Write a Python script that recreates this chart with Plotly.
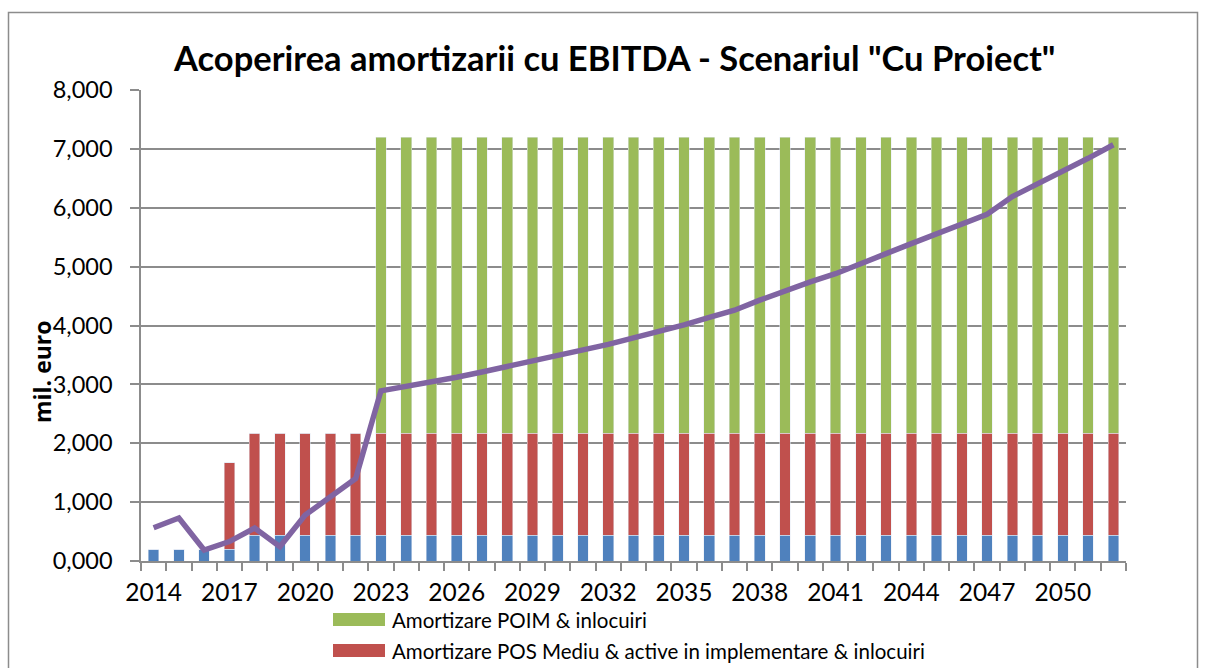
import plotly.graph_objects as go

# Years on the category axis
years = [2014, 2015, 2016, 2017, 2018, 2019, 2020, 2021, 2022, 2023,
         2024, 2025, 2026, 2027, 2028, 2029, 2030, 2031, 2032, 2033,
         2034, 2035, 2036, 2037, 2038, 2039, 2040, 2041, 2042, 2043,
         2044, 2045, 2046, 2047, 2048, 2049, 2050, 2051, 2052]

# Depreciation of existing assets (bottom of the stack)
amort_existente = [200, 200, 200, 200, 440, 440, 440, 440, 440, 440,
                   440, 440, 440, 440, 440, 440, 440, 440, 440, 440,
                   440, 440, 440, 440, 440, 440, 440, 440, 440, 440,
                   440, 440, 440, 440, 440, 440, 440, 440, 440]

# Depreciation POS Mediu & assets in implementation & replacements
amort_pos = [0, 0, 0, 1465, 1730, 1730, 1730, 1730, 1730, 1730,
             1730, 1730, 1730, 1730, 1730, 1730, 1730, 1730, 1730, 1730,
             1730, 1730, 1730, 1730, 1730, 1730, 1730, 1730, 1730, 1730,
             1730, 1730, 1730, 1730, 1730, 1730, 1730, 1730, 1730]

# Depreciation POIM & replacements
amort_poim = [0, 0, 0, 0, 0, 0, 0, 0, 0, 5030,
              5030, 5030, 5030, 5030, 5030, 5030, 5030, 5030, 5030, 5030,
              5030, 5030, 5030, 5030, 5030, 5030, 5030, 5030, 5030, 5030,
              5030, 5030, 5030, 5030, 5030, 5030, 5030, 5030, 5030]

# EBITDA
ebitda = [565, 730, 187, 330, 560, 243, 780, 1090, 1400, 2890,
          2960, 3040, 3120, 3210, 3300, 3400, 3490, 3580, 3680, 3790,
          3890, 4010, 4140, 4260, 4430, 4590, 4740, 4880, 5040, 5220,
          5390, 5560, 5720, 5890, 6190, 6400, 6610, 6840, 7070]

x_tick_years = [2014, 2017, 2020, 2023, 2026, 2029, 2032, 2035, 2038,
                2041, 2044, 2047, 2050]
y_tick_vals = [0, 1000, 2000, 3000, 4000, 5000, 6000, 7000, 8000]
y_tick_text = ["0,000", "1,000", "2,000", "3,000", "4,000", "5,000",
               "6,000", "7,000", "8,000"]

name_poim = "Amortizare POIM & inlocuiri"
name_pos = "Amortizare POS Mediu & active in implementare & inlocuiri"

BLUE = "#4F81BD"
RED = "#C0504D"
GREEN = "#9BBB59"
PURPLE = "#8064A2"
GRID = "#8C8C8C"
FONT = "Lato"

fig = go.Figure()
bar_w = 0.42
fig.add_trace(go.Bar(x=years, y=amort_existente, marker_color=BLUE,
                     width=bar_w, name="Amortizare active existente",
                     showlegend=False))
fig.add_trace(go.Bar(x=years, y=amort_pos, marker_color=RED, width=bar_w,
                     name=name_pos, showlegend=False))
fig.add_trace(go.Bar(x=years, y=amort_poim, marker_color=GREEN, width=bar_w,
                     name=name_poim, showlegend=False))
fig.add_trace(go.Scatter(x=years, y=ebitda, mode="lines", name="EBITDA",
                         line=dict(color=PURPLE, width=5.5),
                         showlegend=False))

# plot area spans x 141..1126 px, y 90..561 px
L, R, T, B = 141, 79, 90, 107
W, H = 1205, 668
pw, ph = W - L - R, H - T - B


def px(xp):
    return (xp - L) / pw


def py(yp):
    return (H - B - yp) / ph


boundaries = [y - 0.5 for y in years] + [years[-1] + 0.5]

fig.update_layout(
    width=W, height=H,
    margin=dict(l=L, r=R, t=T, b=B),
    barmode="stack",
    plot_bgcolor="white", paper_bgcolor="white",
    font=dict(family=FONT, color="black"),
    xaxis=dict(
        range=[years[0] - 0.5, years[-1] + 0.5],
        tickvals=x_tick_years, ticktext=[str(v) for v in x_tick_years],
        ticks="outside", ticklen=9, tickcolor="rgba(0,0,0,0)",
        tickfont=dict(size=24.5, family=FONT),
        showline=True, linecolor=GRID, linewidth=1.5,
        showgrid=False, zeroline=False,
        minor=dict(tickvals=boundaries, ticks="outside", ticklen=8,
                   tickcolor=GRID, tickwidth=1.5, showgrid=False),
    ),
    yaxis=dict(
        range=[0, 8000],
        tickvals=y_tick_vals, ticktext=y_tick_text,
        ticks="outside", ticklen=9, tickcolor=GRID, tickwidth=1.5,
        ticklabelstandoff=13,
        tickfont=dict(size=23.5, family=FONT),
        showline=True, linecolor=GRID, linewidth=1.5,
        showgrid=True, gridcolor=GRID, gridwidth=1.5,
        zeroline=False,
    ),
    showlegend=False,
)

# chart frame
fig.add_shape(type="rect", xref="paper", yref="paper",
              x0=px(8.5), x1=px(1197.5), y0=py(720), y1=py(12.5),
              line=dict(color="#8C8C8C", width=1.5), layer="below")

# title
fig.add_annotation(text="<b>Acoperirea amortizarii cu EBITDA - Scenariul \"Cu Proiect\"</b>",
                   xref="paper", yref="paper", x=px(614), y=py(57),
                   xanchor="center", yanchor="middle", showarrow=False,
                   font=dict(size=34.5, family=FONT, color="black"))

# y-axis title
fig.add_annotation(text="<b>mil. euro</b>", textangle=-90,
                   xref="paper", yref="paper", x=px(42), y=py(372),
                   xanchor="center", yanchor="middle", showarrow=False,
                   font=dict(size=23, family="Open Sans", color="black"))

# legend entries
for name, color, yc in [(name_poim, GREEN, 619.5), (name_pos, RED, 650.5)]:
    fig.add_shape(type="rect", xref="paper", yref="paper",
                  x0=px(333), x1=px(385), y0=py(yc + 6.5), y1=py(yc - 6.5),
                  fillcolor=color, line=dict(width=0))
    fig.add_annotation(text=name, xref="paper", yref="paper",
                       x=px(390), y=py(yc), xanchor="left", yanchor="middle",
                       showarrow=False,
                       font=dict(size=20.5, family=FONT, color="black"))

fig.write_html("out.html")
